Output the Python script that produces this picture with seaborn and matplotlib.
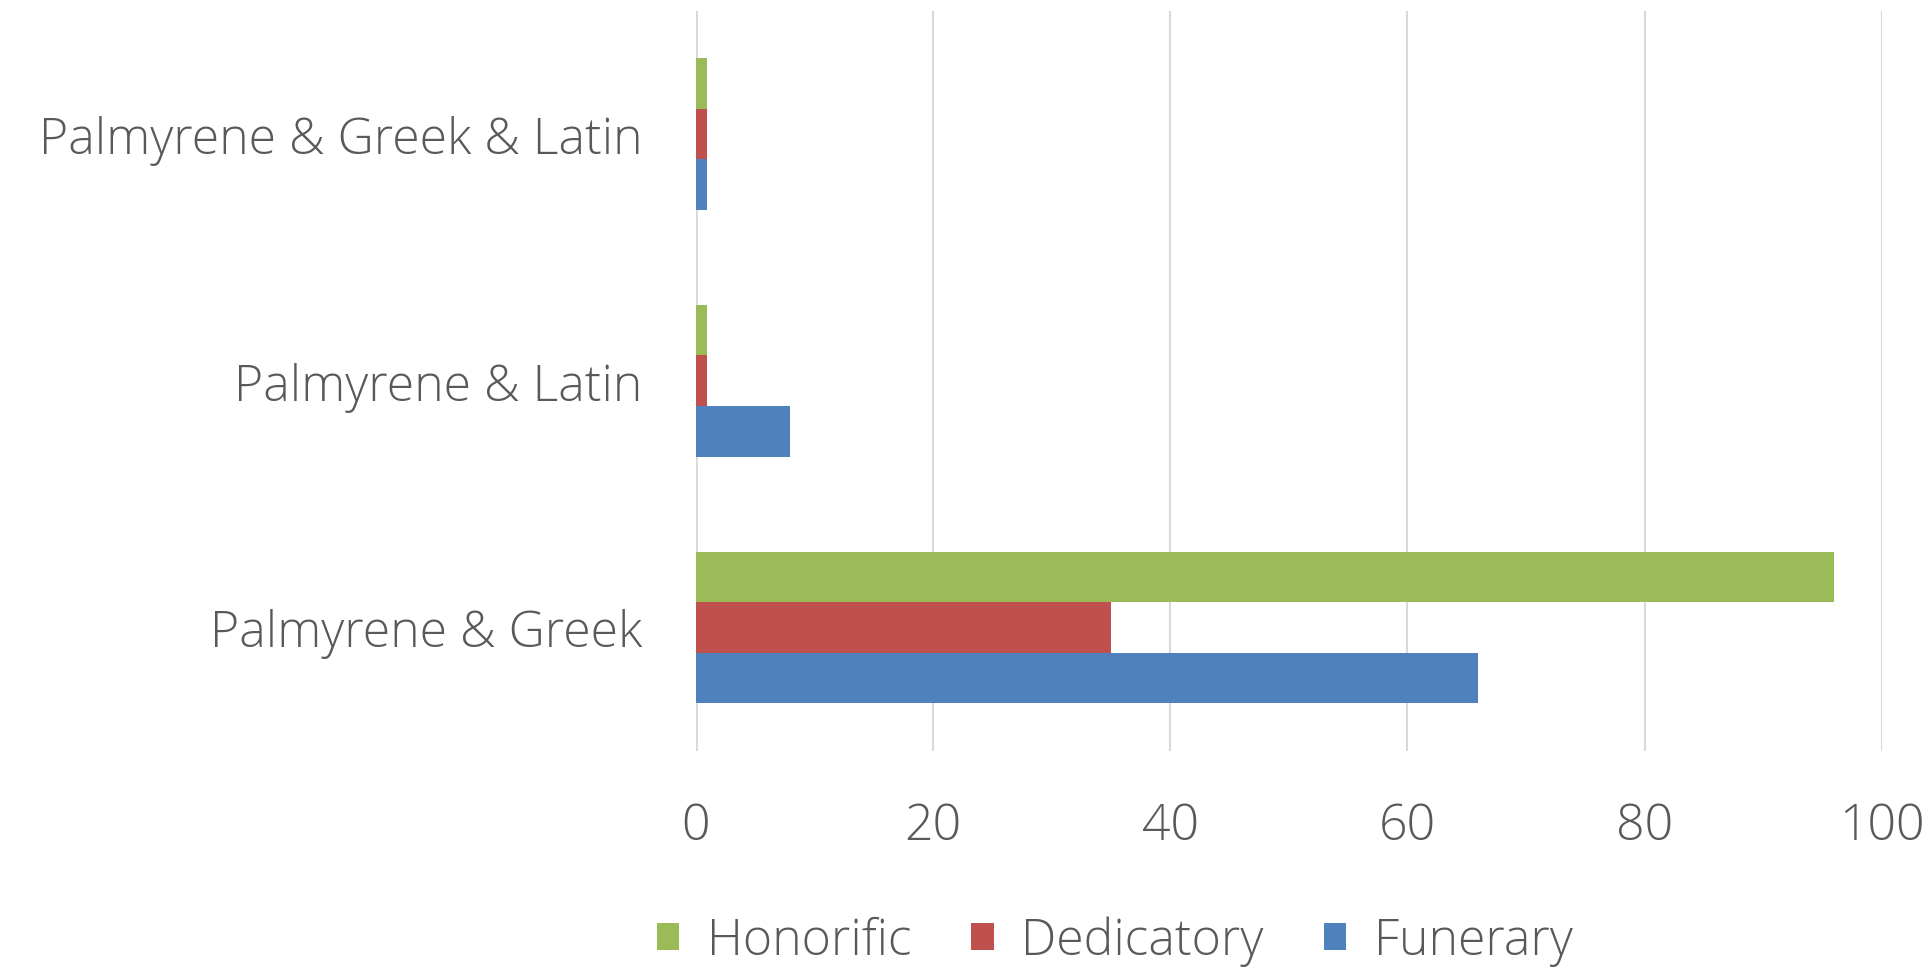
import matplotlib
matplotlib.use("Agg")
import matplotlib.pyplot as plt
import seaborn as sns
import pandas as pd
from matplotlib.patches import Patch

categories = ["Palmyrene & Greek & Latin", "Palmyrene & Latin", "Palmyrene & Greek"]
series = ["Honorific", "Dedicatory", "Funerary"]
honorific = [1, 1, 96]
dedicatory = [1, 1, 35]
funerary = [1, 8, 66]
colors = ["#9BBB59", "#C0504D", "#4F81BD"]
xticks = [0, 20, 40, 60, 80, 100]

rows = []
for s, vals in zip(series, [honorific, dedicatory, funerary]):
    for c, v in zip(categories, vals):
        rows.append({"Category": c, "Series": s, "Value": v})
df = pd.DataFrame(rows)

sns.set_theme(style="white")
plt.rcParams['font.family'] = ['Open Sans', 'DejaVu Sans']
text_color = "#595959"

fig = plt.figure(figsize=(19.32, 9.70), dpi=100)
ax = fig.add_axes([0.360, 0.225, 0.614, 0.763])

sns.barplot(data=df, y="Category", x="Value", hue="Series", order=categories,
            hue_order=series, palette=colors, orient="h", width=0.615, gap=0,
            saturation=1, errorbar=None, ax=ax, legend=False, linewidth=0)

ax.set_xlim(0, 100)
ax.set_xticks(xticks)
ax.set_xticklabels([str(t) for t in xticks])
ax.grid(axis="x", color="#D9D9D9", linewidth=1.5)
ax.grid(axis="y", visible=False)
ax.set_axisbelow(True)
for sp in ax.spines.values():
    sp.set_visible(False)
ax.axvline(0, color="#D9D9D9", linewidth=2, zorder=0.5)
ax.set_xlabel("")
ax.set_ylabel("")
ax.tick_params(axis="x", length=0, pad=36, labelsize=36, labelcolor=text_color)
ax.tick_params(axis="y", length=0, pad=38, labelsize=36, labelcolor=text_color)
for lbl in ax.get_xticklabels() + ax.get_yticklabels():
    lbl.set_fontweight("light")

handles = [Patch(facecolor=c, edgecolor="none") for c in colors]
leg = fig.legend(handles, series, loc="center", bbox_to_anchor=(0.577, 0.029), ncol=3,
                 frameon=False, fontsize=36, labelcolor=text_color, handlelength=0.45,
                 handleheight=0.45, handletextpad=0.55, columnspacing=1.2)
for t in leg.get_texts():
    t.set_fontweight("light")

fig.savefig("out.png", dpi=100, facecolor="white")
